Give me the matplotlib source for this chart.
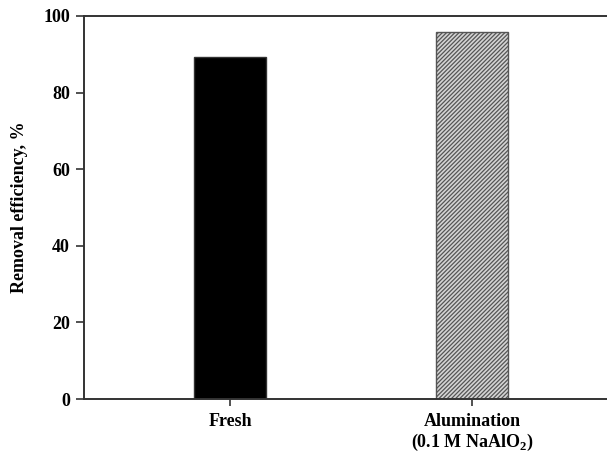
import matplotlib
matplotlib.use("Agg")
import matplotlib.pyplot as plt

categories = ["Fresh", "Alumination\n(0.1 M NaAlO$_\\mathbf{2}$)"]
values = [89.3, 95.8]
yticks = [0, 20, 40, 60, 80, 100]

plt.rcParams['font.family'] = ['Liberation Serif', 'DejaVu Serif']
plt.rcParams['font.weight'] = 'bold'
plt.rcParams['mathtext.fontset'] = 'custom'
plt.rcParams['mathtext.rm'] = 'Liberation Serif:bold'
plt.rcParams['mathtext.bf'] = 'Liberation Serif:bold'
plt.rcParams['hatch.linewidth'] = 0.9
plt.rcParams['hatch.color'] = '#555555'

fig = plt.figure(figsize=(6.07, 4.57), dpi=100)
ax = fig.add_axes([84/607, 58/457, 1 - 84/607, (399-16)/457])

x = [1, 2]
ax.bar(x[0], values[0], width=0.3, color='black', edgecolor='#333333', linewidth=1)
ax.bar(x[1], values[1], width=0.3, color='#d4d4d4', edgecolor='#555555',
       hatch='////////', linewidth=1)

ax.set_xlim(1 - 146/242, 2 + 135/242)
ax.set_ylim(0, 100)
ax.set_yticks(yticks)
ax.set_xticks(x)
ax.set_xticklabels(categories, fontsize=13, fontweight='bold', linespacing=1.15)
ax.tick_params(axis='y', labelsize=13, direction='out', length=6, width=1.2, color='#333333', pad=4)
ax.tick_params(axis='x', direction='out', length=5, width=1.2, color='#333333', pad=5)
for lab in ax.get_yticklabels():
    lab.set_fontweight('bold')
ax.set_ylabel("Removal efficiency, %", fontsize=13, fontweight='bold', labelpad=11)
ax.spines['right'].set_visible(False)
for s in ['left', 'top', 'bottom']:
    ax.spines[s].set_linewidth(1.4)
    ax.spines[s].set_color('#333333')

fig.savefig("out.png", dpi=100)
